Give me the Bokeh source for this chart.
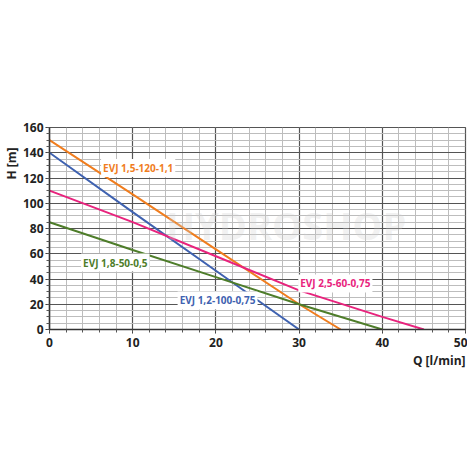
from bokeh.plotting import figure
from bokeh.models import Label, Range1d, FixedTicker, Title
from bokeh.embed import file_html
from bokeh.resources import INLINE

# Data
orange_q = [0, 10, 20, 30, 35]
orange_h = [150, 107, 63.5, 20, 0]
blue_q = [0, 10, 20, 30]
blue_h = [140, 93, 46.5, 0]
pink_q = [0, 10, 20, 30, 40, 45]
pink_h = [110, 85, 58, 31, 10, 0]
green_q = [0, 10, 20, 30, 40]
green_h = [85, 63, 41.5, 20, 0]

labels = ["EVJ 1,5-120-1,1", "EVJ 1,8-50-0,5", "EVJ 1,2-100-0,75", "EVJ 2,5-60-0,75"]
label_x = [6.2, 3.8, 15.4, 29.9]
label_y = [128, 53, 23, 36.5]

x_ticks = [0, 10, 20, 30, 40, 50]
y_ticks = [0, 20, 40, 60, 80, 100, 120, 140, 160]
x_minor = list(range(0, 51, 2))
y_minor = list(range(0, 161, 5))

ORANGE = "#f07d1e"
BLUE = "#3f62b0"
PINK = "#e8237d"
GREEN = "#4e7d2a"
colors = [ORANGE, GREEN, BLUE, PINK]
FONT = "Open Sans"

BL, BT, BB = 48, 127, 50
p = figure(frame_width=416, frame_height=202, output_backend="svg",
           toolbar_location=None, x_range=Range1d(0, 50), y_range=Range1d(0, 160),
           min_border_left=BL, min_border_top=BT, min_border_right=2, min_border_bottom=BB)
p.outline_line_color = "#555555"
p.outline_line_width = 1.2
p.background_fill_color = "white"
p.border_fill_color = "white"

xt = FixedTicker(ticks=x_ticks, minor_ticks=x_minor)
yt = FixedTicker(ticks=y_ticks, minor_ticks=y_minor)
p.xaxis.ticker = xt
p.yaxis.ticker = yt
p.xgrid.ticker = xt
p.ygrid.ticker = yt
for ax in (p.xaxis[0], p.yaxis[0]):
    ax.axis_line_color = "#333333"
    ax.axis_line_width = 1.5
    ax.major_tick_line_color = "#333333"
    ax.minor_tick_line_color = "#555555"
    ax.major_tick_out = 4
    ax.major_tick_in = 0
    ax.minor_tick_out = 3
    ax.minor_tick_in = 0
    ax.major_label_text_font = FONT
    ax.major_label_text_font_size = "12px"
    ax.major_label_text_color = "#222222"
    ax.major_label_text_font_style = "bold"
p.xaxis.major_label_standoff = 4
p.yaxis.major_label_standoff = 2

p.xgrid.grid_line_color = "#555555"
p.ygrid.grid_line_color = "#555555"
p.xgrid.grid_line_width = 1.2
p.ygrid.grid_line_width = 1.2
p.xgrid.minor_grid_line_color = "#bdbdbd"
p.ygrid.minor_grid_line_color = "#bdbdbd"
p.xgrid.minor_grid_line_width = 1
p.ygrid.minor_grid_line_width = 1

# watermark
p.add_layout(Label(x=14, y=62, text="HYDROSHOP", text_font=FONT, text_font_size="38px",
                   text_font_style="bold", text_color="#d0d0d0", text_alpha=0.3))

p.line(orange_q, orange_h, line_color=ORANGE, line_width=2)
p.line(blue_q, blue_h, line_color=BLUE, line_width=2)
p.line(pink_q, pink_h, line_color=PINK, line_width=2)
p.line(green_q, green_h, line_color=GREEN, line_width=2)

for t, x, y, c in zip(labels, label_x, label_y, colors):
    p.add_layout(Label(x=x, y=y, text=t, text_font=FONT, text_font_size="10px",
                       text_font_style="bold", text_color=c, text_baseline="middle",
                       background_fill_color="white", background_fill_alpha=1.0,
                       padding=2))

p.add_layout(Title(text="H [m]", align="right", offset=20, standoff=0,
                   text_font=FONT, text_font_size="12px", text_font_style="bold",
                   text_color="#222222"), "left")
p.add_layout(Title(text="Q [l/min]", align="right", standoff=0,
                   text_font=FONT, text_font_size="12px", text_font_style="bold",
                   text_color="#222222"), "below")

open("out.html", "w").write(file_html(p, INLINE))
